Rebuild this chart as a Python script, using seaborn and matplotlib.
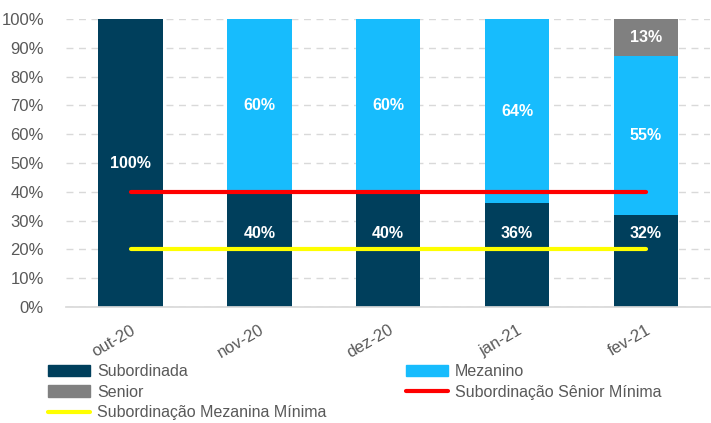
import pandas as pd
import seaborn as sns
import matplotlib.pyplot as plt
from matplotlib.patches import Patch
from matplotlib.lines import Line2D
from matplotlib.ticker import PercentFormatter

categories = ["out-20", "nov-20", "dez-20", "jan-21", "fev-21"]
subordinada = [1.00, 0.40, 0.40, 0.36, 0.32]
mezanino = [0.00, 0.60, 0.60, 0.64, 0.55]
senior = [0.00, 0.00, 0.00, 0.00, 0.13]
sub_senior_min = [0.40, 0.40, 0.40, 0.40, 0.40]
sub_mez_min = [0.20, 0.20, 0.20, 0.20, 0.20]

c_sub = "#003F5C"
c_mez = "#17BCFD"
c_sen = "#808080"
txt = "#595959"

sns.set_theme(style="white")
plt.rcParams['font.family'] = ['Liberation Sans Narrow', 'Liberation Sans', 'DejaVu Sans']

df = pd.DataFrame({"Mes": categories, "Subordinada": subordinada,
                   "Mezanino": mezanino, "Senior": senior})
df["base_sen"] = df["Subordinada"] + df["Mezanino"]

fig = plt.figure(figsize=(7.11, 4.23), dpi=100)
ax = fig.add_axes([0.093, 0.274, 0.906, 0.681])

sns.barplot(data=df, x="Mes", y="Subordinada", color=c_sub, width=0.5,
            saturation=1, linewidth=0, ax=ax)
sns.barplot(data=df, x="Mes", y="Mezanino", bottom=df["Subordinada"], color=c_mez,
            width=0.5, saturation=1, linewidth=0, ax=ax)
sns.barplot(data=df, x="Mes", y="Senior", bottom=df["base_sen"], color=c_sen,
            width=0.5, saturation=1, linewidth=0, ax=ax)

# value labels
for i in range(len(categories)):
    segs = [(subordinada[i], 0), (mezanino[i], subordinada[i]),
            (senior[i], subordinada[i] + mezanino[i])]
    for v, b in segs:
        if v > 0:
            y = b + v / 2
            if b == 0 and v < 0.5:
                y = 0.255
            ax.text(i, y, f"{v:.0%}", ha="center", va="center", color="white",
                    fontsize=11.5, fontweight="bold")

ax.plot(range(len(categories)), sub_senior_min, color="#FF0000", lw=3,
        solid_capstyle="round", zorder=4)
ax.plot(range(len(categories)), sub_mez_min, color="#FFFF00", lw=3,
        solid_capstyle="round", zorder=4)

ax.set_ylim(0, 1)
ax.set_xlim(-0.5, 4.5)
ax.set_yticks([i / 10 for i in range(11)])
ax.yaxis.set_major_formatter(PercentFormatter(1.0, decimals=0))
ax.grid(axis="y", color="#D9D9D9", linestyle=(0, (5, 4)), lw=1)
ax.set_axisbelow(True)
for s in ["left", "right", "top"]:
    ax.spines[s].set_visible(False)
ax.spines["bottom"].set_color("#D9D9D9")
ax.set_xlabel(None)
ax.set_ylabel(None)
ax.tick_params(axis="y", labelsize=12, colors=txt, length=0, pad=16)
ax.tick_params(axis="x", labelsize=12, colors=txt, length=0, pad=11)
plt.setp(ax.get_xticklabels(), rotation=30, ha="right", rotation_mode="anchor")

handles = [Patch(color=c_sub), Patch(color=c_sen),
           Line2D([], [], color="#FFFF00", lw=3, solid_capstyle="round"),
           Patch(color=c_mez),
           Line2D([], [], color="#FF0000", lw=3, solid_capstyle="round")]
labels = ["Subordinada", "Senior", "Subordinação Mezanina Mínima",
          "Mezanino", "Subordinação Sênior Mínima"]
leg = fig.legend(handles, labels, ncol=2, loc="upper left",
                 bbox_to_anchor=(0.068, 0.140), frameon=False, fontsize=11.5,
                 handlelength=2.6, handleheight=0.7, labelspacing=0.36,
                 columnspacing=5.0, handletextpad=0.45, borderaxespad=0,
                 borderpad=0)
for t in leg.get_texts():
    t.set_color(txt)

fig.savefig("out.png", dpi=100)
